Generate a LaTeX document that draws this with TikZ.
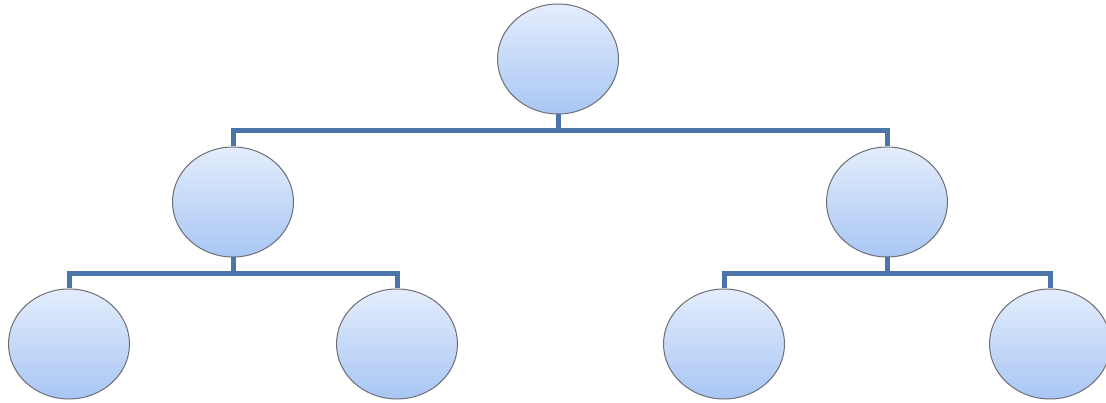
\documentclass[tikz,border=0pt]{standalone}
\usetikzlibrary{shapes.geometric,backgrounds}
\definecolor{linkblue}{RGB}{74,116,170}
\definecolor{topfill}{RGB}{228,237,252}
\definecolor{midfill}{RGB}{208,224,250}
\definecolor{botfill}{RGB}{168,198,244}
\definecolor{rimgray}{RGB}{110,110,118}
\tikzset{
  bubble/.style={ellipse, draw=rimgray, line width=1pt, minimum width=121pt, minimum height=110pt,
    inner sep=0pt, top color=topfill, middle color=midfill, bottom color=botfill},
  conn/.style={draw=linkblue, line width=5pt, line join=miter}
}
\begin{document}
\begin{tikzpicture}[x=1pt,y=-1pt]
\useasboundingbox (0,0) rectangle (1106,403);
\node[bubble] (root) at (558,59) {};
\node[bubble] (L) at (233,202) {};
\node[bubble] (R) at (887,202) {};
\node[bubble] (LL) at (69,344) {};
\node[bubble] (LR) at (397,344) {};
\node[bubble] (RL) at (724,344) {};
\node[bubble] (RR) at (1050,344) {};
\coordinate (b1) at (558,131);
\coordinate (b2) at (233,274);
\coordinate (b3) at (887,274);
\begin{scope}[on background layer]
\draw[conn] (root.south) -- (b1);
\draw[conn] (L.north) |- (b1) -| (R.north);
\draw[conn] (L.south) -- (b2);
\draw[conn] (LL.north) |- (b2) -| (LR.north);
\draw[conn] (R.south) -- (b3);
\draw[conn] (RL.north) |- (b3) -| (RR.north);
\end{scope}
\end{tikzpicture}
\end{document}
